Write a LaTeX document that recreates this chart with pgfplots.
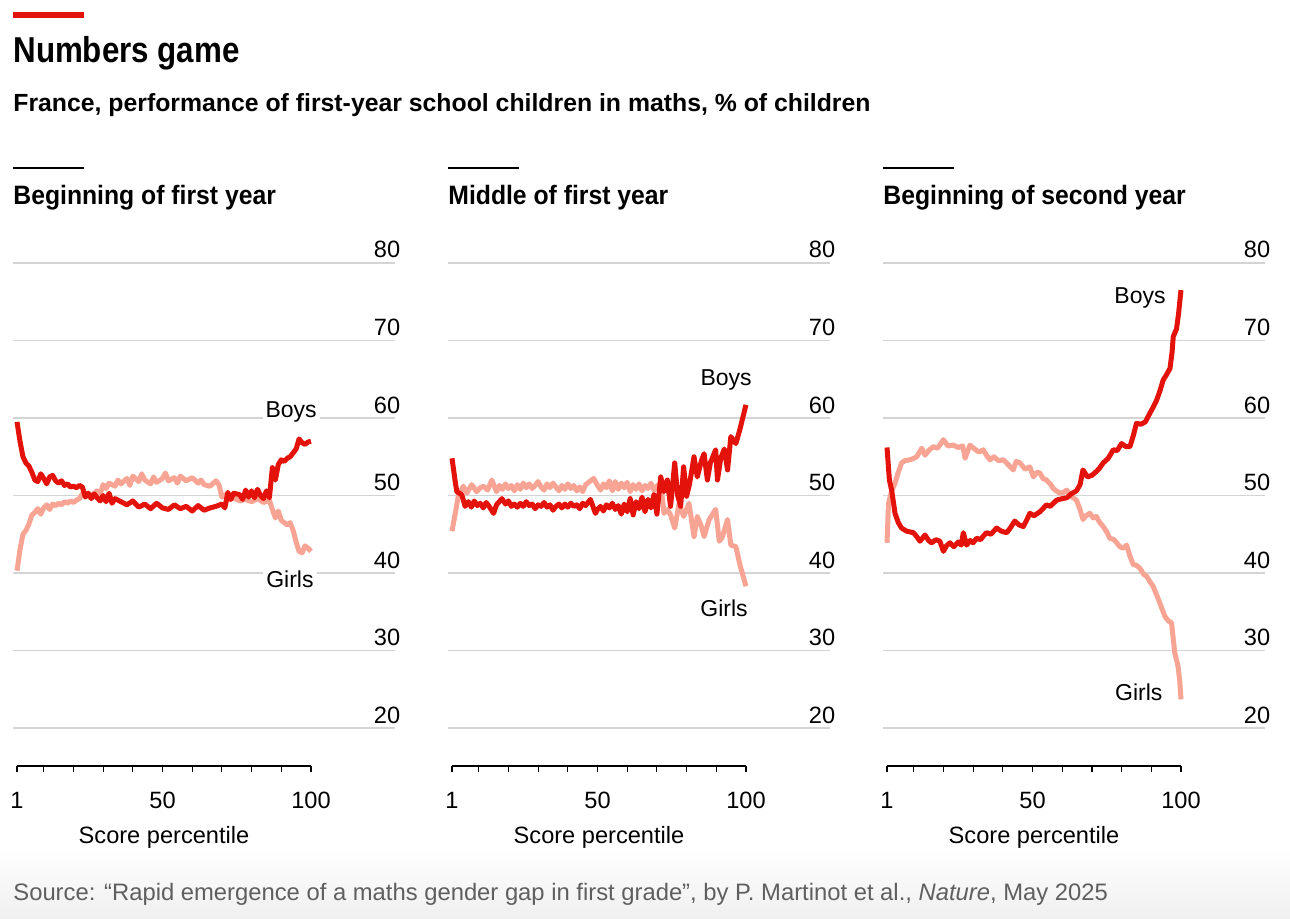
\documentclass[border=0pt]{standalone}
\usepackage{fontspec}
\setmainfont{Liberation Sans}
\newfontfamily\titlefont{Liberation Sans}[FakeStretch=0.87]
\newfontfamily\panelfont{Liberation Sans}[FakeStretch=0.93]
\usepackage{pgfplots}
\pgfplotsset{compat=1.18}
\definecolor{econred}{HTML}{E3120B}
\definecolor{girls}{HTML}{F8A494}
\definecolor{gridgray}{HTML}{D4D4D4}
\definecolor{srcgray}{HTML}{5F5F5F}

\tikzset{
  lbl/.style={fill=white, inner sep=1.5pt, font=\fontsize{11.5}{13}\selectfont},
  boysline/.style={econred, line width=2.5pt, line join=round},
  girlsline/.style={girls, line width=2.5pt, line join=round},
}
\pgfplotsset{panel/.style={
  scale only axis, width=191pt, height=251.5pt,
  xmin=-0.35, xmax=128.3, ymin=15.1, ymax=80,
  axis line style={draw=none},
  ytick={20,30,40,50,60,70,80}, ymajorgrids,
  grid style={gridgray, line width=0.75pt},
  yticklabel pos=right,
  yticklabel style={anchor=base east, inner sep=0pt, yshift=2.5pt, font=\fontsize{11.8}{13}\selectfont},
  major y tick style={draw=none},
  xtick={1,10,20,30,40,50,60,70,80,90,100}, xticklabels={1,,,,,50,,,,,100},
  xtick pos=bottom, tick align=outside, major tick length=2.8pt,
  major x tick style={black, line width=0.6pt},
  xticklabel style={anchor=base, inner sep=0pt, yshift=-18.2pt, font=\fontsize{11.8}{13}\selectfont},
  /pgf/number format/assume math mode=true,
  clip=false,
}}

\begin{document}
\begin{tikzpicture}
\fill[white] (0,0) rectangle (645pt,459pt);
\shade[top color=white, bottom color=black!6] (0,0) rectangle (645pt,35pt);
\draw[econred, line width=3pt] (6.5pt,451.5pt) -- (42pt,451.5pt);
\node[anchor=base west, inner sep=0pt] at (6.5pt,427.5pt) {\titlefont\fontsize{18}{20}\selectfont\bfseries Numbers game};
\node[anchor=base west, inner sep=0pt] at (6.5pt,403pt) {\fontsize{12.4}{15}\selectfont\bfseries France, performance of first-year school children in maths, \% of children};
\foreach \L/\t in {6.5/Beginning of first year, 224/Middle of first year, 441.5/Beginning of second year}{
  \draw[black, line width=0.8pt] (\L pt,375pt) -- ++(35.5pt,0);
  \node[anchor=base west, inner sep=0pt] at (\L pt,357pt) {\panelfont\fontsize{13.3}{15}\selectfont\bfseries \t};
}
\node[anchor=base west, inner sep=0pt, text=srcgray] at (6.5pt,9pt) {\fontsize{11.9}{13}\selectfont Source: “Rapid emergence of a maths gender gap in first grade”, by P. Martinot et al., \textit{Nature}, May 2025};

% Panel 1
\begin{axis}[panel, at={(6.5pt,76pt)}, anchor=south west]
\node[lbl] at (axis cs:93.3,60.8) {Boys};
\node[lbl] at (axis cs:92.9,39.2) {Girls};
\addplot[girlsline] coordinates {
(1,40.3)(2,43)(3,45)(4,45.5)(5,46.3)(6,47.5)(7,47.8)(8,48.3)(9,47.6)(10,48.4)(11,48.8)(12,48.2)(13,48.9)(14,48.7)(15,49)(16,48.8)(17,49.2)(18,49)(19,49.3)(20,49.1)(21,49.4)(22,49.6)(23,50.2)(24,50.3)(26,50)(28,50.6)(29,50.2)(30,51.4)(31,50.9)(32,51.6)(34,51.2)(35,52)(36,51.5)(38,52.2)(39,51.3)(40,52.5)(42,51.8)(43,52.8)(44,52)(46,51.5)(47,52.4)(48,51.7)(50,52.2)(51,52.9)(52,51.9)(54,52.3)(55,51.6)(56,52.5)(58,51.9)(60,52.3)(62,51.6)(63,52)(64,51.4)(66,51.2)(68,51.9)(69,51.4)(70,49.8)(71,50.1)(72,49.4)(74,49.7)(76,49.3)(78,49.5)(80,49.2)(82,49.6)(84,49.1)(86,49.4)(87,48.2)(88,47.1)(89,48)(90,46.8)(91,46.5)(92,46.2)(93,46.5)(94,45.5)(95,44)(96,42.8)(97,42.6)(98,43.5)(99,43.2)(100,42.8)
};
\addplot[boysline] coordinates {
(1,59.5)(2,57)(3,55)(4,54.2)(5,53.8)(6,53)(7,52)(8,51.8)(9,52.8)(10,52.2)(11,51.5)(12,52.4)(13,52.6)(14,51.9)(15,51.6)(16,51.9)(17,51.3)(18,51.5)(19,51.1)(20,51.2)(21,51)(22,51.3)(23,51.1)(24,49.8)(25,50.3)(26,49.6)(27,50.2)(28,49.7)(29,49.3)(30,50)(31,49.2)(32,50.3)(33,49)(34,49.6)(36,49.2)(38,48.8)(40,49.3)(42,48.5)(44,48.9)(46,48.3)(48,49)(50,48.4)(52,48.2)(54,48.8)(56,48.3)(58,48.6)(60,48)(62,48.7)(64,48.1)(66,48.4)(68,48.6)(70,48.9)(71,48.4)(72,50.4)(73,49.5)(74,50.3)(76,50.1)(77,49.5)(78,50.7)(79,49.8)(80,50.6)(81,49.7)(82,50.8)(83,50)(84,49.6)(85,50.6)(86,49.7)(87,53.6)(88,52)(89,54)(90,54.6)(91,54.4)(92,54.8)(93,55)(95,56)(96,57.3)(97,56.8)(98,56.6)(99,56.9)(100,57)
};
\draw[black, line width=0.6pt] (axis cs:1,15.1) -- (axis cs:100,15.1);
\node[anchor=base, inner sep=0pt, font=\fontsize{11.8}{13}\selectfont] at (axis cs:50.5,15.1) [yshift=-38.5pt] {Score percentile};
\end{axis}

% Panel 2
\begin{axis}[panel, at={(224pt,76pt)}, anchor=south west]
\node[lbl] at (axis cs:93.3,64.9) {Boys};
\node[lbl] at (axis cs:92.6,35.5) {Girls};
\addplot[girlsline] coordinates {
(1,45.4)(2,47.5)(3.1,49.9)(4.8,51.2)(6,50.3)(7.6,51.4)(9.3,50.5)(10.5,51)(11.6,51.2)(13,50.7)(14.4,52)(16,50.5)(17,51.3)(18,50.8)(19,51.5)(20,50.9)(21,51.3)(22,50.6)(23,51.4)(24,50.8)(25,51.6)(26,51)(27,51.5)(28,50.9)(29,51.3)(30,51.8)(31,51.1)(32,50.7)(33,51.5)(34,51)(35,51.6)(36,51.1)(37,50.6)(38,51.3)(39,50.8)(40,51.5)(41,50.9)(42,51.3)(43,50.6)(44,51.1)(45,50.5)(46,51.4)(47,51.7)(48.7,52.2)(50,51.3)(51,50.7)(52,51.5)(53,51)(54,51.9)(55,50.6)(56,51.8)(57,50.8)(58,51.6)(59,51)(60,51.7)(61,50.5)(62,51.4)(63,50.8)(64,51.5)(65,50.6)(66,51.3)(67,50.9)(68,51.6)(69,50.7)(70,51.2)(71.3,51.6)(72.4,47.7)(73.5,48.2)(74.6,47.5)(76,45.8)(77.5,49)(79,47.3)(80.8,49)(82.5,44.7)(83.6,47.3)(85,46)(85.9,44.7)(87.6,46.9)(89.8,48.2)(91,44.1)(92,44.6)(93.8,46.9)(94.9,43.6)(96.6,43.4)(98,41)(100,38.3)
};
\addplot[boysline] coordinates {
(1,54.8)(2,52)(2.6,50.5)(4.3,50.1)(5.4,48.6)(6.5,49.2)(7.5,48.5)(8.5,49.3)(9.5,48.7)(10.5,49)(11.5,48.4)(12.5,49.1)(13.5,48.6)(15,47.7)(16,48.8)(17.8,49.6)(19,48.9)(20,49.3)(21,48.6)(22,48.9)(23,48.5)(24,49)(25,48.6)(26,49.2)(27,48.7)(28,48.9)(29,48.3)(30,48.8)(31,48.6)(32,49.1)(33,48.5)(34,48.8)(35,48.1)(36,48.6)(37,48.9)(38,48.4)(39,48.9)(40,48.5)(41,49)(42,48.6)(43,48.8)(44,48.3)(45,49)(46,48.7)(47.6,49.5)(49.3,47.7)(50,48.2)(51,48.6)(52,48)(53,48.8)(54,48.4)(55,49)(56,48.2)(57,48.7)(58,47.6)(59,48.9)(60,47.9)(61,49.6)(62,47.5)(63,49.2)(64,48.3)(65,49.8)(66,47.9)(67,49.5)(68,48.4)(69,50.1)(70,47.6)(71.3,52.4)(72.4,50.5)(73.5,52)(74.6,48.6)(76,54.2)(77,50)(78,48.6)(79,53.7)(80,49.9)(81,51.5)(82.5,55)(83.6,52.4)(85,54.5)(85.9,55.4)(87,52)(88,54.2)(89.8,55.9)(90.4,52)(91.5,54.8)(92.7,56)(93.8,53.3)(94.9,57.6)(96.6,56.7)(98,58.6)(100,61.7)
};
\draw[black, line width=0.6pt] (axis cs:1,15.1) -- (axis cs:100,15.1);
\node[anchor=base, inner sep=0pt, font=\fontsize{11.8}{13}\selectfont] at (axis cs:50.5,15.1) [yshift=-38.5pt] {Score percentile};
\end{axis}

% Panel 3
\begin{axis}[panel, at={(441.5pt,76pt)}, anchor=south west]
\node[lbl] at (axis cs:86.2,75.5) {Boys};
\node[lbl] at (axis cs:85.8,24.6) {Girls};
\addplot[girlsline] coordinates {
(1,43.9)(1.5,49)(2.5,50.5)(3.7,51.6)(4.8,53)(5.9,54.2)(7,54.5)(8.7,54.6)(10,54.8)(11,55)(12.7,56.1)(13.8,55.2)(15,55.8)(16.6,56.3)(18,56.1)(20,57.2)(21.5,56.4)(23.3,56.5)(25,56.2)(26.5,56.4)(27.3,54.8)(28.9,56.5)(30.5,56)(32,55.6)(33.4,55.9)(34.5,55.2)(35.7,54.6)(37,55)(38.5,54.5)(40.2,54.6)(41.5,54.1)(43.5,53.3)(44.5,54.4)(45.8,54.2)(47.5,53.4)(49.1,53.7)(50.3,52.4)(51.5,53)(52.5,52.9)(53.5,52.2)(54.7,52)(56,51.5)(57,50.9)(58,50.6)(59.2,50.3)(60.5,50.4)(61.5,50.7)(63,49.9)(64.8,49.4)(66,48.2)(67,46.9)(68,47.4)(69.3,47.7)(70.5,47.1)(71.5,47.3)(72.5,46.6)(73.8,46)(75,45.3)(76,44.5)(77.5,44.3)(79.4,43.4)(80.5,43.2)(81.7,43.6)(82.8,42.2)(83.9,41.1)(85,41)(86.2,40.6)(87.5,39.8)(88.4,39.6)(89.5,38.9)(90.6,38.3)(92,37)(92.9,36.1)(94,35)(94.6,34.4)(95.8,33.8)(96.8,33.6)(97.4,31.5)(97.9,29.7)(99,28)(99.6,26)(100,23.7)
};
\addplot[boysline] coordinates {
(1,56.2)(1.8,52)(2.6,50.6)(3.7,47.7)(4.8,46.5)(5.9,45.8)(7.6,45.4)(9.9,45.2)(11,44.7)(12.1,44.1)(13.8,44.9)(15,44.2)(16,43.9)(17.5,44.3)(18.8,44.1)(20,42.8)(21,43.5)(22.2,43.9)(23.5,43.4)(25,44)(26,43.6)(26.7,45.2)(27.8,43.6)(29,44.2)(30,43.9)(31.2,44.5)(32.5,44.3)(33.5,44.8)(34.5,45.2)(36,45)(37.9,45.8)(39.5,45.4)(41.3,45.2)(42.5,45.8)(44,46.7)(45.5,46.2)(46.9,46)(48,46.8)(49.1,47.7)(50.5,47.4)(52.5,47.9)(53.5,48.3)(54.7,48.8)(56,48.6)(58.1,49.4)(60,49.6)(61.5,49.7)(63,50.2)(64.8,50.6)(66,51.4)(67,53.3)(68.5,52.4)(70,52.6)(71.5,53.1)(72.5,53.5)(73.8,54.2)(75.5,54.8)(77.2,55.9)(78.5,55.8)(80,56.7)(81.5,56.3)(82.8,56.3)(84,57.8)(85,59.3)(86.5,59.2)(88,59.5)(89.5,60.6)(90.5,61.3)(91.8,62.3)(93,63.6)(94,64.9)(95,65.5)(96.3,66.4)(97,68.5)(97.4,70.5)(98.5,71.5)(99.2,73.5)(100,76.5)
};
\draw[black, line width=0.6pt] (axis cs:1,15.1) -- (axis cs:100,15.1);
\node[anchor=base, inner sep=0pt, font=\fontsize{11.8}{13}\selectfont] at (axis cs:50.5,15.1) [yshift=-38.5pt] {Score percentile};
\end{axis}
\end{tikzpicture}
\end{document}
